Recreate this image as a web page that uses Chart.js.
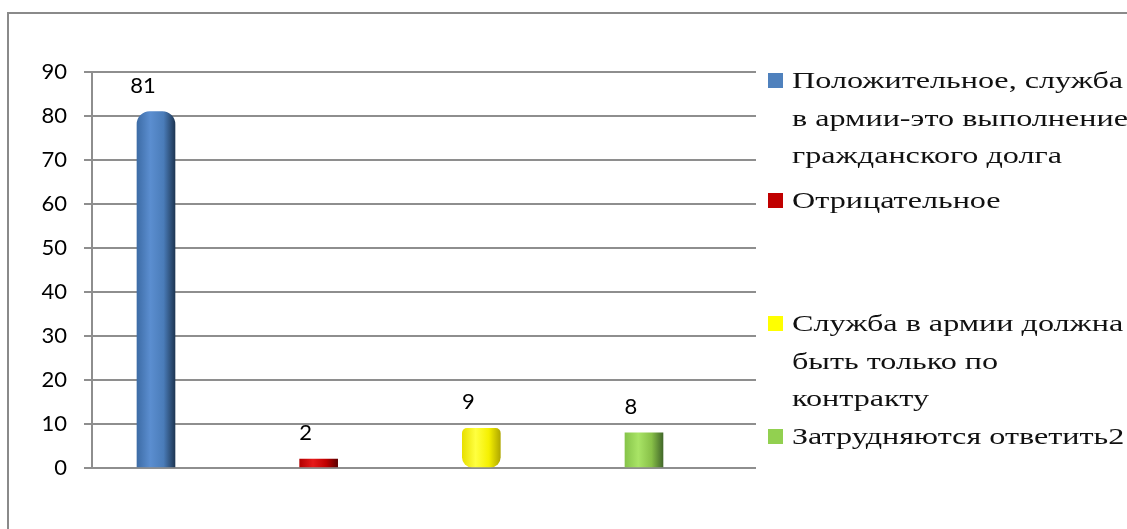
<!DOCTYPE html>
<html>
<head>
<meta charset="utf-8">
<script src="https://cdn.jsdelivr.net/npm/chart.js@4.4.1/dist/chart.umd.min.js"></script>
<style>
  html, body { margin: 0; padding: 0; background: #fff; }
  #wrap { position: relative; width: 1127px; height: 529px; overflow: hidden; }
  #frame { position: absolute; left: 7px; top: 12px; width: 1200px; height: 600px; border: 2px solid #8a8a8a; box-sizing: border-box; }
  canvas { position: absolute; left: 0; top: 0; }
  .leg { position: absolute; left: 768px; font-family: "Liberation Serif", "Times New Roman", serif; font-size: 24px; line-height: 37.5px; color: #111; white-space: pre-line; }
  .leg .sw { position: absolute; left: 0; width: 15px; height: 15px; }
  .leg .tx { position: absolute; left: 24px; top: 0; width: 360px; white-space: pre; transform: scaleX(1.34); transform-origin: 0 0; }
</style>
</head>
<body>
<div id="wrap">
  <div id="frame"></div>
  <canvas id="c" width="1127" height="529"></canvas>
  <div id="legend"></div>
</div>
<script>
const seriesNames = [
  "Положительное, служба\nв армии-это выполнение\nгражданского долга",
  "Отрицательное",
  "Служба в армии должна\nбыть только по\nконтракту",
  "Затрудняются ответить2"
];
const seriesValues = [81, 2, 9, 8];
const seriesColors = ["#4f81bd", "#c00000", "#ffff00", "#92d050"];
const yTicks = [0, 10, 20, 30, 40, 50, 60, 70, 80, 90];

const gradStops = [
  ["#3d6ca6", "#5b8ed0", "#4a7cb9", "#1e3755"],
  ["#b30000", "#e61a1a", "#c00000", "#5c0000"],
  ["#e8e000", "#ffff40", "#f5f000", "#b0a800"],
  ["#86c44a", "#a9e466", "#88c048", "#43692a"]
];
const radii = [
  {topLeft: 13, topRight: 13, bottomLeft: 0, bottomRight: 0},
  0,
  {topLeft: 5, topRight: 5, bottomLeft: 10, bottomRight: 10},
  0
];

function makeBg(i) {
  return function(ctx) {
    const chart = ctx.chart;
    if (!chart.chartArea || !chart.scales.x) return seriesColors[i];
    const cx = chart.scales.x.getPixelForValue(i);
    const w = 38;
    const g = chart.ctx.createLinearGradient(cx - w / 2, 0, cx + w / 2, 0);
    const s = gradStops[i];
    g.addColorStop(0, s[0]);
    g.addColorStop(0.35, s[1]);
    g.addColorStop(0.7, s[2]);
    g.addColorStop(1, s[3]);
    return g;
  };
}

const datasets = seriesNames.map((name, i) => ({
  label: name,
  data: [{x: i, y: seriesValues[i]}],
  backgroundColor: makeBg(i),
  borderWidth: 0,
  borderRadius: radii[i],
  borderSkipped: false,
  barThickness: 38,
  grouped: false
}));

const valueLabels = {
  id: 'valueLabels',
  afterDatasetsDraw(chart) {
    const c = chart.ctx;
    c.save();
    c.font = '22px Lato, "Liberation Sans", sans-serif';
    c.fillStyle = '#000';
    c.textAlign = 'center';
    c.textBaseline = 'middle';
    chart.data.datasets.forEach((ds, i) => {
      const meta = chart.getDatasetMeta(i);
      meta.data.forEach((el, j) => {
        const v = ds.data[j].y;
        c.fillText(String(v), el.x - 13, el.y - 26);
      });
    });
    c.restore();
  }
};

new Chart(document.getElementById('c'), {
  type: 'bar',
  data: { datasets },
  options: {
    responsive: false,
    animation: false,
    devicePixelRatio: 1,
    layout: { padding: { top: 72, bottom: 61, right: 371, left: 0 } },
    plugins: { legend: { display: false }, tooltip: { enabled: false } },
    scales: {
      x: {
        type: 'linear',
        offset: false,
        min: -0.3934,
        max: 3.6886,
        display: false
      },
      y: {
        min: 0,
        max: 90,
        afterFit(s) { s.width = 92; },
        afterBuildTicks(s) { s.ticks = yTicks.map(v => ({value: v})); },
        grid: { color: '#8e8e8e', lineWidth: 2, tickLength: 8, drawTicks: true, tickColor: '#8e8e8e' },
        border: { display: true, color: '#8e8e8e', width: 2 },
        ticks: {
          padding: 17,
          color: '#000',
          font: { family: 'Lato, "Liberation Sans", sans-serif', size: 22 }
        }
      }
    }
  },
  plugins: [valueLabels]
});

// HTML legend built from the series arrays
const legendTops = [62, 182, 305, 418];
const legendEl = document.getElementById('legend');
seriesNames.forEach((name, i) => {
  const item = document.createElement('div');
  item.className = 'leg';
  item.style.top = legendTops[i] + 'px';
  const sw = document.createElement('span');
  sw.className = 'sw';
  sw.style.top = '11px';
  sw.style.background = seriesColors[i];
  const tx = document.createElement('span');
  tx.className = 'tx';
  tx.textContent = name;
  item.appendChild(sw);
  item.appendChild(tx);
  legendEl.appendChild(item);
});
</script>
</body>
</html>
